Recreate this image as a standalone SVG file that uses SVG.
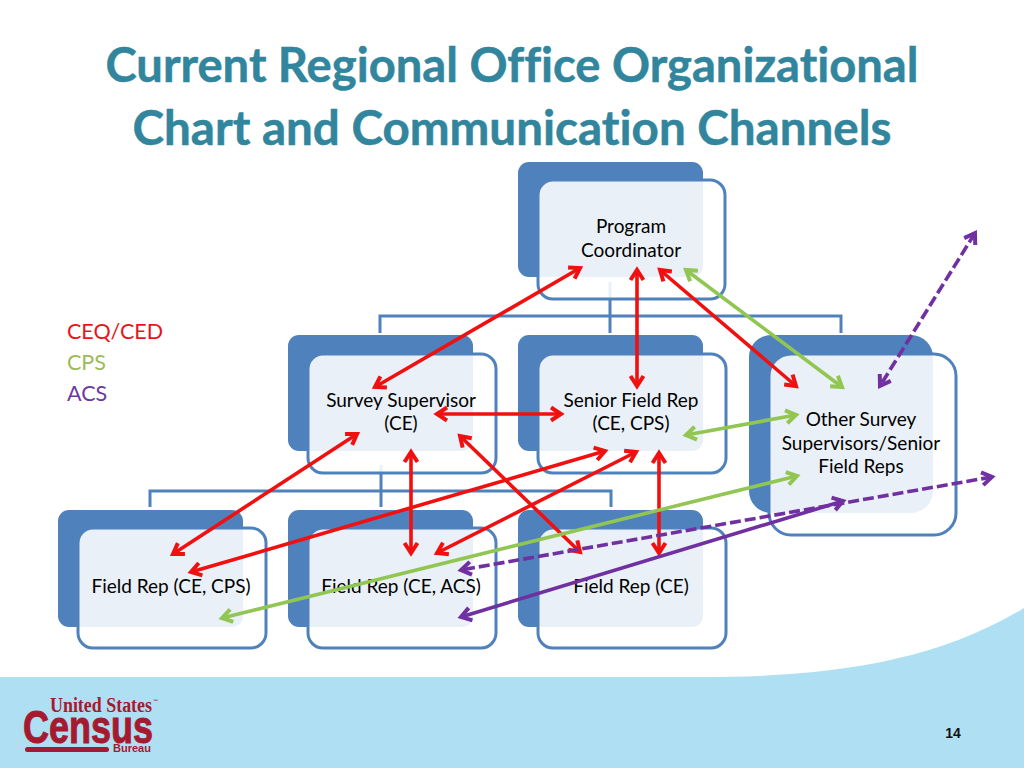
<svg xmlns="http://www.w3.org/2000/svg" width="1024" height="768" viewBox="0 0 1024 768">
<style>
text{font-variant-ligatures:none}
.title{font-family:"Lato","Liberation Sans",sans-serif;font-weight:700;font-size:47px;fill:#31859C;text-anchor:middle;stroke:#31859C;stroke-width:.5}
.lbl{font-family:"Lato","Liberation Sans",sans-serif;font-size:19px;fill:#000;text-anchor:middle}
.leg{font-family:"Lato","Liberation Sans",sans-serif;font-size:21.5px}
.back{fill:#4F81BD}
.front{fill:#fff;fill-opacity:.88;stroke:#4F81BD;stroke-width:3}
.tree{fill:none;stroke:#4F81BD;stroke-width:3}
.a{fill:none;stroke-width:3.6}
.r{stroke:#F01010;marker-start:url(#mr);marker-end:url(#mr)}
.g{stroke:#92C653;marker-start:url(#mg);marker-end:url(#mg)}
.p{stroke:#7030A0;marker-start:url(#mp);marker-end:url(#mp)}
.d{stroke-dasharray:11 4}
.logo{fill:#A6192E;font-weight:700}
</style>
<defs>
<marker id="mr" markerUnits="userSpaceOnUse" markerWidth="24" markerHeight="24" refX="14" refY="12" orient="auto-start-reverse"><path d="M4,5.5 L14,12 L4,18.5" fill="none" stroke="#F01010" stroke-width="4"/></marker>
<marker id="mg" markerUnits="userSpaceOnUse" markerWidth="24" markerHeight="24" refX="14" refY="12" orient="auto-start-reverse"><path d="M4,5.5 L14,12 L4,18.5" fill="none" stroke="#92C653" stroke-width="4"/></marker>
<marker id="mp" markerUnits="userSpaceOnUse" markerWidth="24" markerHeight="24" refX="14" refY="12" orient="auto-start-reverse"><path d="M4,5.5 L14,12 L4,18.5" fill="none" stroke="#7030A0" stroke-width="4"/></marker>
</defs>
<rect width="1024" height="768" fill="#fff"/>
<path d="M0,677 L700,677 C820,677 930,665 1024,608 L1024,768 L0,768 Z" fill="#AEDFF3"/>
<g id="title">
<text class="title" x="512" y="82" textLength="813" lengthAdjust="spacingAndGlyphs">Current Regional Office Organizational</text>
<text class="title" x="512" y="145" textLength="759" lengthAdjust="spacingAndGlyphs">Chart and Communication Channels</text>
</g>
<g id="legend" class="leg">
<text x="67" y="339" fill="#E8141C">CEQ/CED</text>
<text x="67" y="370" fill="#9BBB59">CPS</text>
<text x="67" y="401" fill="#6A3AA0">ACS</text>
</g>
<g id="connectors-tree">
<path class="tree" d="M610,282 V333 M380,333 V316 H841 V333 M381,465 V507 M150,507 V491 H611 V507"/>
</g>
<g id="node-program">
<rect class="back" x="518" y="162" width="185" height="115" rx="11"/>
<rect class="front" x="538" y="180" width="187" height="119" rx="15"/>
<text class="lbl" x="631" y="233">Program</text>
<text class="lbl" x="631" y="257">Coordinator</text>
</g>
<g id="node-survey-supervisor">
<rect class="back" x="288" y="335" width="185" height="116" rx="11"/>
<rect class="front" x="308" y="354" width="188" height="119" rx="15"/>
<text class="lbl" x="401" y="407">Survey Supervisor</text>
<text class="lbl" x="401" y="430">(CE)</text>
</g>
<g id="node-senior-field-rep">
<rect class="back" x="518" y="335" width="185" height="116" rx="11"/>
<rect class="front" x="538" y="354" width="188" height="119" rx="15"/>
<text class="lbl" x="631" y="407">Senior Field Rep</text>
<text class="lbl" x="631" y="430">(CE, CPS)</text>
</g>
<g id="node-other">
<rect class="back" x="749" y="335" width="184" height="178" rx="22"/>
<rect class="front" x="769" y="354" width="187" height="181" rx="22"/>
<text class="lbl" x="861" y="426">Other Survey</text>
<text class="lbl" x="861" y="450">Supervisors/Senior</text>
<text class="lbl" x="861" y="473">Field Reps</text>
</g>
<g id="node-field-rep-ce-cps">
<rect class="back" x="58" y="510" width="185" height="117" rx="11"/>
<rect class="front" x="78" y="528" width="188" height="120" rx="15"/>
<text class="lbl" x="171" y="593">Field Rep (CE, CPS)</text>
</g>
<g id="node-field-rep-ce-acs">
<rect class="back" x="288" y="510" width="185" height="117" rx="11"/>
<rect class="front" x="308" y="528" width="188" height="120" rx="15"/>
<text class="lbl" x="401" y="593">Field Rep (CE, ACS)</text>
</g>
<g id="node-field-rep-ce">
<rect class="back" x="518" y="510" width="185" height="117" rx="11"/>
<rect class="front" x="538" y="528" width="188" height="120" rx="15"/>
<text class="lbl" x="631" y="593">Field Rep (CE)</text>
</g>
<g id="connectors">
<line class="a r" x1="580" y1="268" x2="375" y2="387"/>
<line class="a r" x1="637" y1="270" x2="637" y2="386"/>
<line class="a r" x1="660" y1="270" x2="796" y2="386"/>
<line class="a g" x1="686" y1="270" x2="842" y2="387"/>
<line class="a p d" x1="975" y1="233" x2="880" y2="386"/>
<line class="a r" x1="437" y1="414" x2="561" y2="414"/>
<line class="a g" x1="686" y1="435" x2="796" y2="415"/>
<line class="a r" x1="357" y1="434" x2="173" y2="554"/>
<line class="a r" x1="605" y1="451" x2="191" y2="572"/>
<line class="a r" x1="411" y1="452" x2="411" y2="553"/>
<line class="a r" x1="636" y1="452" x2="437" y2="553"/>
<line class="a r" x1="460" y1="436" x2="580" y2="552"/>
<line class="a r" x1="659" y1="453" x2="659" y2="553"/>
<line class="a g" x1="797" y1="476" x2="222" y2="618"/>
<line class="a p d" x1="992" y1="477" x2="461" y2="570"/>
<line class="a p" x1="843" y1="501" x2="461" y2="617"/>
</g>
<g id="logo">
<text class="logo" x="50" y="712" font-family="Liberation Serif, serif" font-size="20" textLength="102" lengthAdjust="spacingAndGlyphs">United States</text>
<text class="logo" x="153" y="703" font-family="Liberation Sans, sans-serif" font-size="5">™</text>
<text class="logo" x="23" y="743" font-family="Liberation Sans, sans-serif" font-size="46" stroke="#A6192E" stroke-width="1" textLength="130" lengthAdjust="spacingAndGlyphs">Census</text>
<rect x="25" y="747" width="84" height="5" rx="2.5" fill="#A6192E"/>
<text class="logo" x="113" y="752" font-family="Liberation Sans, sans-serif" font-size="11" textLength="38" lengthAdjust="spacingAndGlyphs">Bureau</text>
</g>
<text id="page" x="953" y="738" font-family="Liberation Sans, sans-serif" font-size="14" font-weight="700" fill="#111" text-anchor="middle">14</text>
</svg>
